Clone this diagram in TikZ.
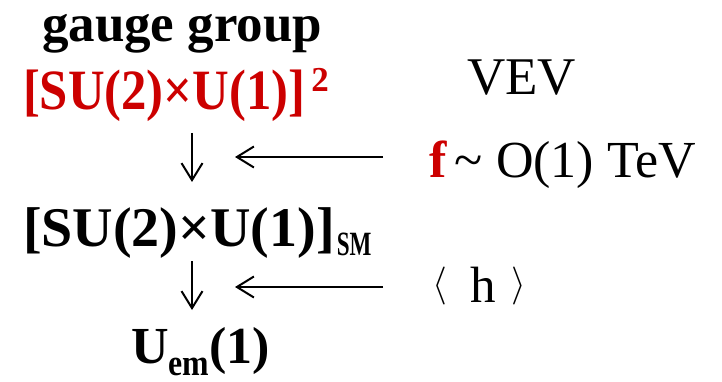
\documentclass[tikz,border=0pt]{standalone}
\usepackage{graphicx}
\usepackage{fontspec}
\setmainfont{Liberation Serif}
\usetikzlibrary{arrows.meta}
\definecolor{darkred}{RGB}{204,0,0}
\newcommand{\bigang}[1]{\raisebox{6.5pt}{\scalebox{3.8}{\fontsize{10}{10}\selectfont$#1$}}}
\newcommand{\narrow}[2]{\scalebox{#1}[1]{#2}}
\begin{document}
\begin{tikzpicture}[x=1pt,y=-1pt,
  txt/.style={inner sep=0pt, outer sep=0pt, anchor=base west},
  conn/.style={line width=2pt, -{Straight Barb[length=17pt,width=21pt,line width=2pt]}}]
\useasboundingbox (0,0) rectangle (722,382);
\node[txt, font=\fontsize{53}{53}\selectfont\bfseries] (gg) at (42,42) {gauge group};
\node[txt, text=darkred, font=\fontsize{57}{57}\selectfont\bfseries] (g2) at (23,110)
  {\narrow{0.89}{[SU(2)×U(1)]}\hspace{6pt}\raisebox{18pt}{\fontsize{35}{35}\selectfont 2}};
\node[txt, font=\fontsize{53}{53}\selectfont] (vev) at (467,95) {VEV};
\node[txt, font=\fontsize{52}{52}\selectfont] (f) at (429,178)
  {\textcolor{darkred}{\bfseries f}\,\textasciitilde\ O(1) TeV};
\node[txt, font=\fontsize{56}{56}\selectfont\bfseries] (sm) at (23,246)
  {[SU(2)×U(1)]\hspace{2pt}\raisebox{-9pt}{\fontsize{34}{34}\selectfont\narrow{0.68}{SM}}};
\node[txt, font=\fontsize{51}{51}\selectfont] (h) at (432,302)
  {\bigang{\langle}\hspace{24pt}h\hspace{15pt}\bigang{\rangle}};
\node[txt, font=\fontsize{52}{52}\selectfont\bfseries] (uem) at (131,363)
  {U\raisebox{-12pt}{\fontsize{37}{37}\selectfont\narrow{0.86}{em}}(1)};
% connectors
\coordinate (d1s) at (192,133);
\coordinate (d1e) at (192,182);
\coordinate (d2s) at (192,261);
\coordinate (d2e) at (192,310);
\coordinate (l1s) at (383,157);
\coordinate (l1e) at (235,157);
\coordinate (l2s) at (383,287);
\coordinate (l2e) at (235,287);
\draw[conn] (d1s) -- (d1e);
\draw[conn] (d2s) -- (d2e);
\draw[conn] (l1s) -- (l1e);
\draw[conn] (l2s) -- (l2e);
\end{tikzpicture}
\end{document}
